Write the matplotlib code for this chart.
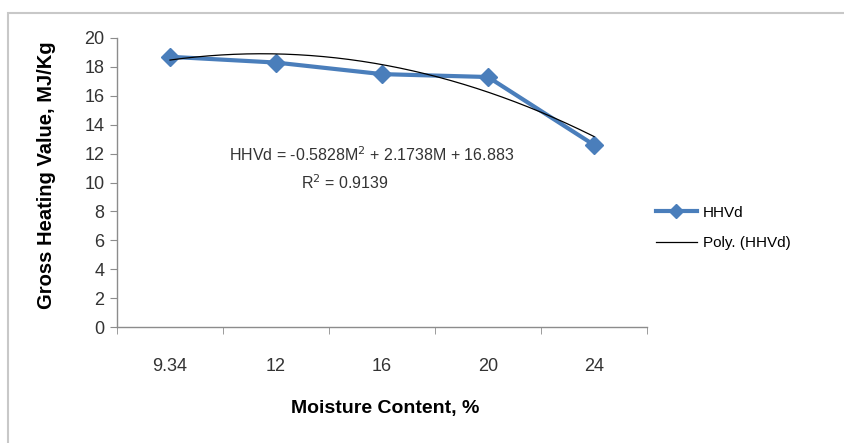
import numpy as np
import matplotlib
matplotlib.use("Agg")
import matplotlib.pyplot as plt
import matplotlib.patches as mpatches

plt.rcParams['font.family'] = ['Liberation Sans', 'DejaVu Sans']

# data
moisture = ["9.34", "12", "16", "20", "24"]
hhvd = [18.7, 18.3, 17.5, 17.3, 12.6]
# trendline coefficients, as printed on the chart
poly_coef = [-0.5828, 2.1738, 16.883]

blue = "#4A7EBB"
grid_gray = "#8C8C8C"
txt = "#333333"

fig = plt.figure(figsize=(8.44, 4.43), dpi=100)

# outer chart frame
fig.patches.append(mpatches.Rectangle((8/844, -0.05), 1.0, 1 - 13/443 + 0.05,
                                      transform=fig.transFigure, fill=False,
                                      edgecolor="#C8C8C8", linewidth=1.5))

ax = fig.add_axes([117/844, 1 - 327/443, (647 - 117)/844, (327 - 38)/443])

pos = np.arange(len(moisture))
ax.plot(pos, hhvd, color=blue, linewidth=3, marker="D", markersize=9,
        markerfacecolor=blue, markeredgecolor=blue, label="HHVd", zorder=3)

# polynomial trendline (category index 1..n)
m = np.linspace(1, len(moisture), 200)
ax.plot(m - 1, np.polyval(poly_coef, m), color="black", linewidth=0.9,
        label="Poly. (HHVd)", zorder=4)

ax.set_xlim(-0.5, len(moisture) - 0.5)
ax.set_ylim(0, 20)
ax.set_yticks(range(0, 21, 2))
ax.set_xticks(pos)
ax.set_xticklabels(moisture)
ax.set_xticks(np.arange(-0.5, len(moisture), 1), minor=True)
ax.tick_params(axis="x", which="major", length=0, pad=22, labelsize=13, labelcolor=txt)
ax.tick_params(axis="x", which="minor", length=5, color=grid_gray, direction="out")
ax.tick_params(axis="y", length=5, color=grid_gray, direction="out", labelsize=13,
               labelcolor=txt, pad=4)

for side in ["top", "right"]:
    ax.spines[side].set_visible(False)
for side in ["left", "bottom"]:
    ax.spines[side].set_color(grid_gray)
    ax.spines[side].set_linewidth(1)

ax.set_ylabel("Gross Heating Value, MJ/Kg", fontweight="bold", fontsize=14.5, va="center")
ax.yaxis.set_label_coords((47 - 117)/530, (327 - 175)/289)
ax.set_xlabel("Moisture Content, %", fontweight="bold", fontsize=14, va="center")
ax.xaxis.set_label_coords((385 - 117)/530, (327 - 409)/289)

ax.text(0.48, 0.595, "HHVd = -0.5828M$^2$ + 2.1738M + 16.883", transform=ax.transAxes,
        ha="center", va="center", fontsize=11.5, color=txt)
ax.text(0.43, 0.5, "R$^2$ = 0.9139", transform=ax.transAxes,
        ha="center", va="center", fontsize=11.5, color=txt)

leg = fig.legend(loc="center left", bbox_to_anchor=(642/844, 1 - 228/443), frameon=False,
                 fontsize=11, handlelength=2.7, labelspacing=1.1, handletextpad=0.4)
leg.legend_handles[0].set_markersize(7)

fig.savefig("out.png", dpi=100)
